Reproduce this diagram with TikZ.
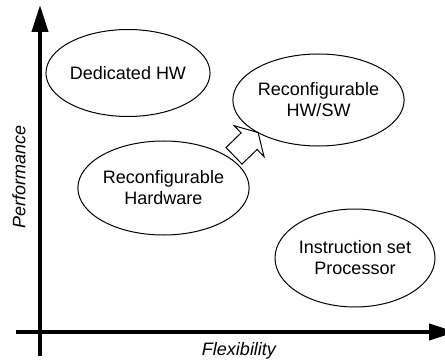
\documentclass[tikz,border=0pt]{standalone}
\usepackage{fontspec}
\setmainfont{Liberation Sans}
\usetikzlibrary{arrows.meta, shapes.geometric}

\begin{document}
\begin{tikzpicture}[x=1pt, y=-1pt,
		blob/.style={ellipse, draw=black, line width=1pt, inner sep=0pt,
			align=center, font=\fontsize{18}{21}\selectfont},
		axis/.style={line width=4pt, -{Triangle[length=27pt, width=16pt]}},
		axislabel/.style={font=\fontsize{18}{21}\selectfont\itshape}]
		\useasboundingbox (0,0) rectangle (445,361);
		%-------------------------------------------------------------------------------
		% axes
		%-------------------------------------------------------------------------------
		\coordinate (ybot) at (40,356);
		\coordinate (ytop) at (40,5);
		\coordinate (xleft) at (16,332);
		\coordinate (xright) at (456,332);
		\draw[axis] (ybot) -- (ytop);
		\draw[axis] (xleft) -- (xright);
		\node[axislabel, rotate=90] (perf) at (19,177) {Performance};
		\node[axislabel, anchor=base] (flex) at (239,355) {Flexibility};

		% design points
		\node[blob, minimum width=150pt, minimum height=87pt] (ded) 
			at (128,73) {Dedicated HW};
		\node[blob, minimum width=149pt, minimum height=92pt] (rhs) 
			at (318.5,100) {Reconfigurable\\HW/SW};
		\node[blob, minimum width=147pt, minimum height=94pt] (rhw) 
			at (163.5,188) {Reconfigurable\\Hardware};
		\node[blob, minimum width=160pt, minimum height=98pt] (isp) 
			at (355,258) {Instruction set\\Processor};

		% move from hardware to HW/SW
		\coordinate (mv) at (234,155.8);
		\draw[line width=1pt, line join=miter, shift={(mv)}, rotate=44]
			(0,-11.5) -- (21,-11.5) -- (21,-21.5) -- (33.5,0) -- (21,21.5)
			-- (21,11.5) -- (0,11.5) -- cycle;
\end{tikzpicture}
\end{document}
